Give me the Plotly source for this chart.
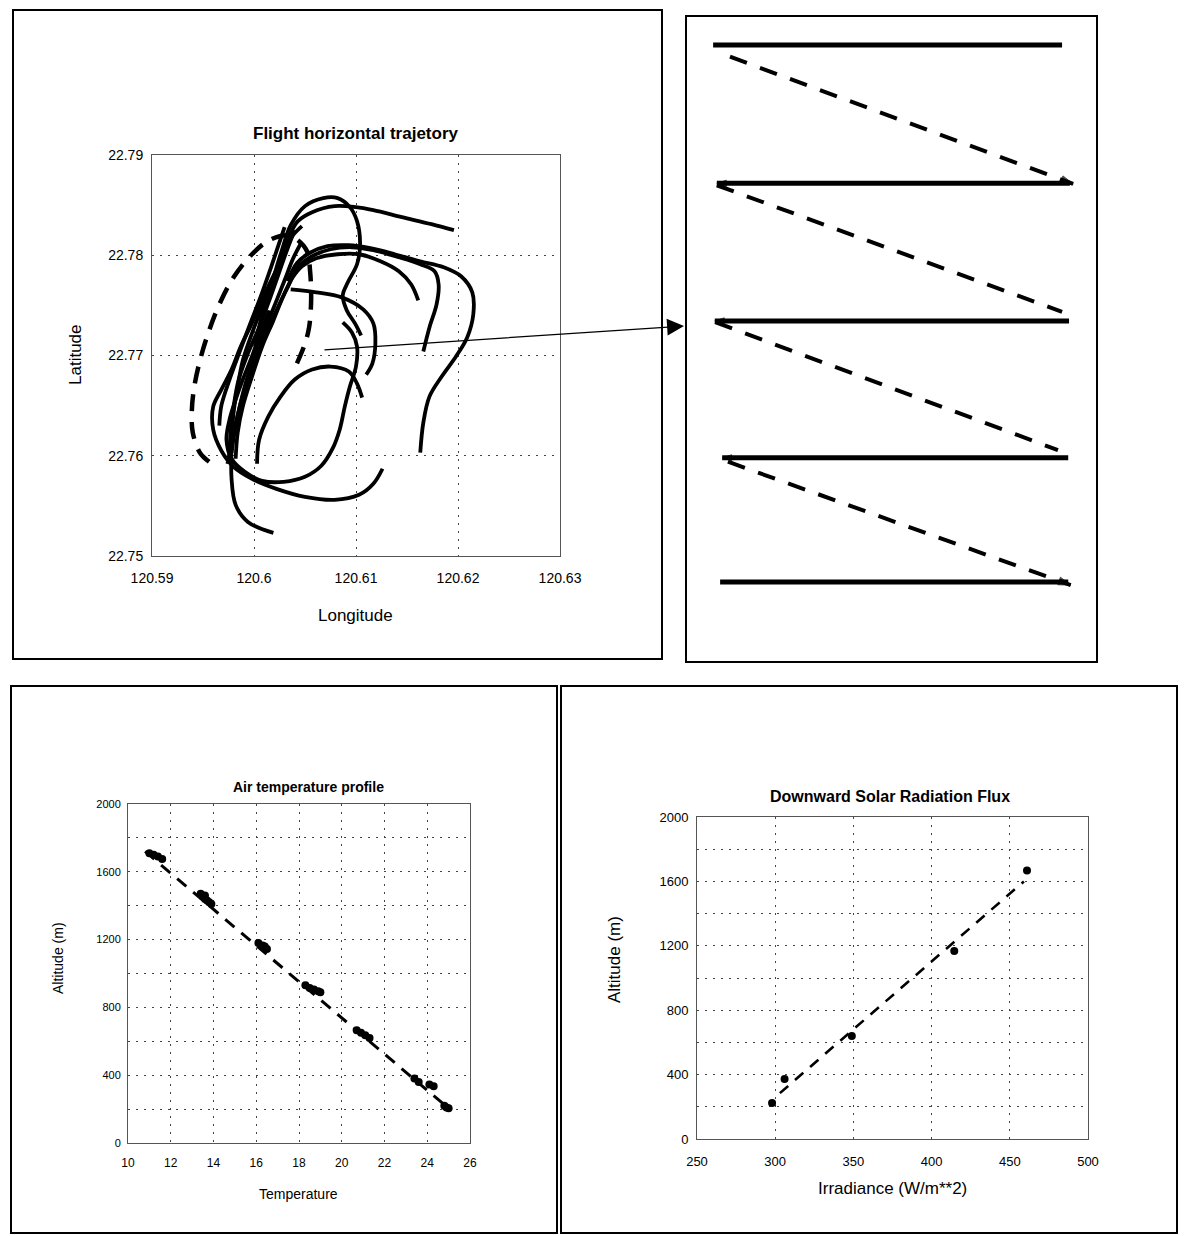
import plotly.graph_objects as go

# page has an 8px body margin; figure is sized so that screen pixel p maps to figure pixel p-8
OFF = 8
W, H = 1187 - OFF, 1236 - OFF
FONT = "Liberation Sans, Arial, sans-serif"

# ---------------- Flight horizontal trajectory (lon / lat) ----------------
track1_lon = [120.6196, 120.6174, 120.6145, 120.6117, 120.6100, 120.6079, 120.6057, 120.6043, 120.6035, 120.6028,
              120.6019, 120.6008, 120.5998, 120.5989, 120.5984, 120.5980, 120.5978, 120.5978, 120.5982, 120.5994, 120.6019]
track1_lat = [22.7825, 22.7831, 22.7838, 22.7845, 22.7848, 22.7849, 22.7843, 22.7834, 22.7820, 22.7801,
              22.7774, 22.7748, 22.7722, 22.7695, 22.7669, 22.7643, 22.7610, 22.7577, 22.7551, 22.7534, 22.7523]
track2_lon = [120.6001, 120.6008, 120.6018, 120.6027, 120.6036, 120.6050, 120.6068, 120.6082, 120.6094, 120.6101,
              120.6104, 120.6101, 120.6092, 120.6087, 120.6091, 120.6099, 120.6105]
track2_lat = [22.7709, 22.7741, 22.7774, 22.7804, 22.7830, 22.7849, 22.7857, 22.7857, 22.7848, 22.7834,
              22.7811, 22.7791, 22.7773, 22.7760, 22.7745, 22.7732, 22.7720]
track3_lon = [120.6161, 120.6154, 120.6142, 120.6124, 120.6103, 120.6082, 120.6061, 120.6047, 120.6038, 120.6029,
              120.6019, 120.6008, 120.5998, 120.5989, 120.5984, 120.5982]
track3_lat = [22.7755, 22.7771, 22.7784, 22.7794, 22.7801, 22.7801, 22.7797, 22.7789, 22.7778, 22.7760,
              22.7735, 22.7709, 22.7679, 22.7649, 22.7623, 22.7597]
track4_lon = [120.6166, 120.6172, 120.6179, 120.6181, 120.6177, 120.6163, 120.6142, 120.6117, 120.6096, 120.6075,
              120.6057, 120.6043, 120.6033, 120.6022, 120.6012, 120.6003, 120.5994, 120.5987, 120.5982, 120.5978]
track4_lat = [22.7704, 22.7728, 22.7751, 22.7771, 22.7784, 22.7791, 22.7798, 22.7805, 22.7808, 22.7806,
              22.7799, 22.7788, 22.7768, 22.7745, 22.7722, 22.7699, 22.7676, 22.7653, 22.7630, 22.7603]
track5_lon = [120.6163, 120.6166, 120.6172, 120.6184, 120.6198, 120.6209, 120.6215, 120.6214, 120.6203, 120.6186,
              120.6163, 120.6138, 120.6114, 120.6093, 120.6072, 120.6054, 120.6042, 120.6033]
track5_lat = [22.7603, 22.7633, 22.7659, 22.7679, 22.7699, 22.7718, 22.7741, 22.7763, 22.7779, 22.7788,
              22.7794, 22.7801, 22.7807, 22.7810, 22.7809, 22.7802, 22.7792, 22.7774]
track6_lon = [120.6036, 120.6061, 120.6086, 120.6107, 120.6117, 120.6119, 120.6116, 120.6110]
track6_lat = [22.7766, 22.7763, 22.7758, 22.7746, 22.7732, 22.7712, 22.7692, 22.7681]
track7_lon = [120.6003, 120.6005, 120.6014, 120.6026, 120.6040, 120.6057, 120.6075, 120.6093, 120.6101, 120.6106]
track7_lat = [22.7592, 22.7616, 22.7639, 22.7659, 22.7676, 22.7686, 22.7689, 22.7684, 22.7672, 22.7658]
track8_lon = [120.6087, 120.6096, 120.6101, 120.6100, 120.6094, 120.6089, 120.6084, 120.6077, 120.6066, 120.6050,
              120.6029, 120.6008, 120.5991, 120.5978, 120.5973, 120.5976, 120.5982, 120.5989, 120.5998, 120.6006, 120.6015]
track8_lat = [22.7733, 22.7723, 22.7709, 22.7689, 22.7669, 22.7649, 22.7626, 22.7607, 22.7590, 22.7579,
              22.7574, 22.7575, 22.7584, 22.7597, 22.7616, 22.7636, 22.7656, 22.7676, 22.7699, 22.7722, 22.7745]
track9_lon = [120.6126, 120.6117, 120.6103, 120.6079, 120.6050, 120.6022, 120.5998, 120.5980, 120.5968, 120.5960,
              120.5960, 120.5968, 120.5978, 120.5987, 120.5996, 120.6005, 120.6015, 120.6026, 120.6036, 120.6047]
track9_lat = [22.7587, 22.7572, 22.7561, 22.7556, 22.7559, 22.7567, 22.7577, 22.7589, 22.7605, 22.7626,
              22.7649, 22.7666, 22.7686, 22.7709, 22.7728, 22.7748, 22.7771, 22.7794, 22.7817, 22.7829]
track10_lon = [120.6040, 120.6033, 120.6024, 120.6015, 120.6005, 120.5994, 120.5985, 120.5980, 120.5977, 120.5976]
track10_lat = [22.7825, 22.7807, 22.7781, 22.7755, 22.7728, 22.7702, 22.7676, 22.7649, 22.7623, 22.7597]
track11_lon = [120.6046, 120.6038, 120.6030, 120.6021, 120.6011, 120.6001, 120.5992, 120.5985, 120.5979, 120.5974]
track11_lat = [22.7812, 22.7796, 22.7775, 22.7752, 22.7727, 22.7700, 22.7673, 22.7645, 22.7617, 22.7592]
track12_lon = [120.6030, 120.6024, 120.6016, 120.6007, 120.5996, 120.5986, 120.5976, 120.5968, 120.5966]
track12_lat = [22.7828, 22.7810, 22.7786, 22.7760, 22.7731, 22.7704, 22.7676, 22.7650, 22.7630]
dashed_lon = [120.5956, 120.5947, 120.5940, 120.5939, 120.5941, 120.5947, 120.5956, 120.5966, 120.5980, 120.5998,
              120.6015, 120.6033, 120.6043, 120.6052, 120.6055, 120.6056, 120.6054, 120.6050, 120.6042]
dashed_lat = [22.7594, 22.7603, 22.7623, 22.7643, 22.7666, 22.7695, 22.7725, 22.7751, 22.7778, 22.7801,
              22.7815, 22.7820, 22.7815, 22.7804, 22.7784, 22.7755, 22.7728, 22.7712, 22.7692]

solid_tracks = [(track1_lon, track1_lat), (track2_lon, track2_lat), (track3_lon, track3_lat),
                (track4_lon, track4_lat), (track5_lon, track5_lat), (track6_lon, track6_lat),
                (track7_lon, track7_lat), (track8_lon, track8_lat), (track9_lon, track9_lat),
                (track10_lon, track10_lat), (track11_lon, track11_lat), (track12_lon, track12_lat)]

lon_ticks = [120.59, 120.60, 120.61, 120.62, 120.63]
lon_ticktext = ["120.59", "120.6", "120.61", "120.62", "120.63"]
lat_ticks = [22.75, 22.76, 22.77, 22.78, 22.79]
lat_ticktext = ["22.75", "22.76", "22.77", "22.78", "22.79"]

# ---------------- Flight pattern schematic (relative units 0-100) ----------------
leg_levels = [95.5, 74.1, 52.8, 31.6, 12.4]
leg_x_start = [6.6, 7.5, 7.0, 8.8, 8.3]
leg_x_end = [91.5, 93.4, 93.2, 93.0, 93.0]
climb_x0 = [10.7, 7.5, 7.1, 10.2]
climb_y0 = [93.7, 73.8, 52.6, 31.0]
climb_x1 = [94.2, 91.5, 90.5, 93.6]
climb_y1 = [74.0, 54.2, 32.8, 11.9]

# ---------------- Air temperature profile ----------------
temp_c = [11.0, 11.2, 11.4, 11.6,
          13.4, 13.5, 13.6, 13.6, 13.7, 13.8, 13.9,
          16.1, 16.3, 16.4, 16.5,
          18.3, 18.5, 18.7, 18.9, 19.0,
          20.7, 20.9, 21.1, 21.3,
          23.4, 23.6,
          24.1, 24.3,
          24.8, 24.9, 25.0]
temp_alt = [1710, 1700, 1690, 1675,
            1470, 1455, 1460, 1440, 1430, 1420, 1410,
            1180, 1165, 1160, 1145,
            930, 915, 905, 895, 890,
            665, 650, 635, 620,
            380, 360,
            345, 335,
            220, 210, 205]
temp_fit_c = [10.8, 24.9]
temp_fit_alt = [1720, 215]
temp_ticks = [10, 12, 14, 16, 18, 20, 22, 24, 26]
alt_ticks = [0, 400, 800, 1200, 1600, 2000]

# ---------------- Downward solar radiation flux ----------------
irr = [298, 306, 349, 414.5, 461]
irr_alt = [223, 372, 640, 1167, 1667]
irr_fit = [303, 459]
irr_fit_alt = [285, 1600]
irr_ticks = [250, 300, 350, 400, 450, 500]


def px_x(p):
    return (p - OFF) / W


def px_y(p):
    return 1 - (p - OFF) / H


fig = go.Figure()

for lon, lat in solid_tracks:
    fig.add_trace(go.Scatter(x=lon, y=lat, mode="lines", xaxis="x", yaxis="y",
                             line=dict(color="black", width=3.8, shape="spline", smoothing=1.0),
                             showlegend=False, hoverinfo="skip"))
fig.add_trace(go.Scatter(x=dashed_lon, y=dashed_lat, mode="lines", xaxis="x", yaxis="y",
                         line=dict(color="black", width=4.5, dash="17px,11px", shape="spline", smoothing=1.0),
                         showlegend=False, hoverinfo="skip"))

# schematic legs
for i, lvl in enumerate(leg_levels):
    fig.add_trace(go.Scatter(x=[leg_x_start[i], leg_x_end[i]], y=[lvl, lvl], mode="lines",
                             xaxis="x2", yaxis="y2", line=dict(color="black", width=5),
                             showlegend=False, hoverinfo="skip"))
for i in (1, 2, 3):
    fig.add_trace(go.Scatter(x=[leg_x_start[i] + 6, leg_x_start[i]], y=[leg_levels[i], leg_levels[i]],
                             mode="markers", xaxis="x2", yaxis="y2",
                             marker=dict(symbol="arrow", size=[0, 10], angleref="previous", color="black",
                                         line=dict(color="black", width=1)),
                             showlegend=False, hoverinfo="skip"))
for i in range(4):
    fig.add_trace(go.Scatter(x=[climb_x0[i], climb_x1[i]], y=[climb_y0[i], climb_y1[i]], mode="lines",
                             xaxis="x2", yaxis="y2", line=dict(color="black", width=4, dash="18px,14px"),
                             showlegend=False, hoverinfo="skip"))
for i in (0, 3):
    fig.add_trace(go.Scatter(x=[climb_x0[i], climb_x1[i]], y=[climb_y0[i], climb_y1[i]], mode="markers",
                             xaxis="x2", yaxis="y2",
                             marker=dict(symbol="arrow", size=[0, 13], angleref="previous", color="black",
                                         line=dict(color="black", width=1)),
                             showlegend=False, hoverinfo="skip"))

# temperature profile
fig.add_trace(go.Scatter(x=temp_fit_c, y=temp_fit_alt, mode="lines", xaxis="x3", yaxis="y3",
                         line=dict(color="black", width=3, dash="12px,9px"),
                         showlegend=False, hoverinfo="skip"))
fig.add_trace(go.Scatter(x=temp_c, y=temp_alt, mode="markers", xaxis="x3", yaxis="y3",
                         marker=dict(color="black", size=8),
                         showlegend=False))

# irradiance
fig.add_trace(go.Scatter(x=irr_fit, y=irr_fit_alt, mode="lines", xaxis="x4", yaxis="y4",
                         line=dict(color="black", width=2.6, dash="11px,9px"),
                         showlegend=False, hoverinfo="skip"))
fig.add_trace(go.Scatter(x=irr, y=irr_alt, mode="markers", xaxis="x4", yaxis="y4",
                         marker=dict(color="black", size=8),
                         showlegend=False))

grid = dict(showgrid=True, gridcolor="#444", griddash="2px,6px", gridwidth=1,
            showline=True, linecolor="#555", linewidth=1, mirror=True, automargin=False,
            zeroline=False, ticks="outside", tickcolor="rgba(0,0,0,0)", color="black")
minor_grid = dict(dtick=200, showgrid=True, gridcolor="#444", griddash="2px,6px")

fig.update_layout(
    template="none",
    width=W, height=H, margin=dict(l=0, r=0, t=0, b=0, pad=0, autoexpand=False),
    paper_bgcolor="white", plot_bgcolor="white",
    font=dict(family=FONT, color="black"),
    showlegend=False,
    xaxis=dict(domain=[px_x(152), px_x(560)], range=[120.59, 120.63], tickvals=lon_ticks,
               ticktext=lon_ticktext, tickfont=dict(size=14), ticklen=9, anchor="y", **grid),
    yaxis=dict(domain=[px_y(556), px_y(155)], range=[22.75, 22.79], tickvals=lat_ticks,
               ticktext=lat_ticktext, tickfont=dict(size=14), ticklen=5, anchor="x", **grid),
    xaxis2=dict(domain=[px_x(686), px_x(1097)], range=[0, 100], visible=False, anchor="y2", automargin=False),
    yaxis2=dict(domain=[px_y(662), px_y(16)], range=[0, 100], visible=False, anchor="x2", automargin=False),
    xaxis3=dict(domain=[px_x(128), px_x(470)], range=[10, 26], tickvals=temp_ticks,
                tickfont=dict(size=12), ticklen=9, anchor="y3", **grid),
    yaxis3=dict(domain=[px_y(1143), px_y(804)], range=[0, 2000], tickvals=alt_ticks,
                tickfont=dict(size=11), ticklen=4, anchor="x3", minor=minor_grid, **grid),
    xaxis4=dict(domain=[px_x(697), px_x(1088)], range=[250, 500], tickvals=irr_ticks,
                tickfont=dict(size=13), ticklen=10, anchor="y4", **grid),
    yaxis4=dict(domain=[px_y(1139), px_y(817)], range=[0, 2000], tickvals=alt_ticks,
                tickfont=dict(size=13), ticklen=5, anchor="x4", minor=minor_grid, **grid),
)

# panel borders
for (x0, y0, x1, y1) in [(13, 10, 662, 659), (686, 16, 1097, 662), (11, 686, 557, 1233), (561, 686, 1177, 1233)]:
    fig.add_shape(type="rect", xref="paper", yref="paper", x0=px_x(x0), x1=px_x(x1), y0=px_y(y1), y1=px_y(y0),
                  line=dict(color="black", width=2), fillcolor="rgba(0,0,0,0)")

def txt(s, x, y, size, bold=False, angle=0):
    fig.add_annotation(text=f"<b>{s}</b>" if bold else s, x=px_x(x), y=px_y(y), xref="paper", yref="paper",
                       showarrow=False, textangle=angle, font=dict(size=size, family=FONT, color="black"),
                       xanchor="center", yanchor="middle")

txt("Flight horizontal trajetory", 356, 133, 17, bold=True)
txt("Longitude", 356, 615, 17)
txt("Latitude", 75, 355, 17, angle=-90)
txt("Air temperature profile", 308, 787, 14, bold=True)
txt("Temperature", 298, 1194, 14)
txt("Altitude (m)", 58, 958, 14, angle=-90)
txt("Downward Solar Radiation Flux", 890, 797, 16, bold=True)
txt("Irradiance (W/m**2)", 892, 1188, 17)
txt("Altitude (m)", 614, 960, 17, angle=-90)

# pointer arrow from trajectory to schematic
fig.add_annotation(x=px_x(684), y=px_y(326), xref="paper", yref="paper", ax=-361, ay=24,
                   axref="pixel", ayref="pixel", showarrow=True, arrowhead=2, arrowsize=2.6,
                   arrowwidth=1.3, arrowcolor="black", text="")

fig.write_html("out.html")
